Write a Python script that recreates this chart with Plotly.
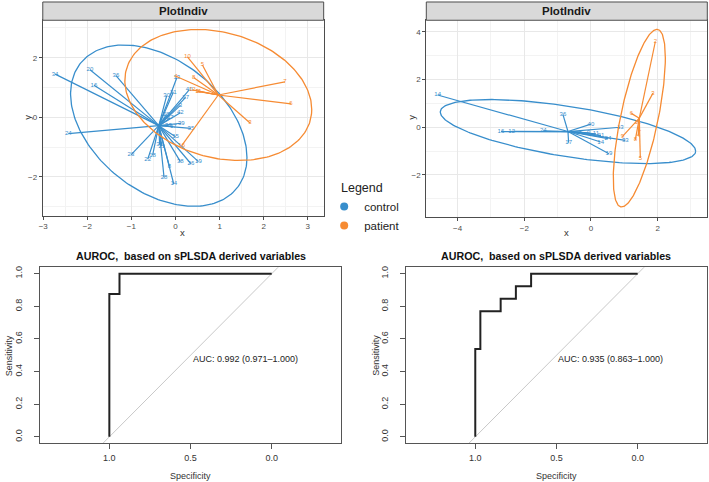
import numpy as np
import plotly.graph_objects as go

BLUE = "#388ECC"
ORANGE = "#F68B33"
W, H = 709, 482

# ---------------- data: top-left PlotIndiv ----------------
a_ctrl_x = [-2.73, -1.94, -1.85, -1.35, -2.43, 0.03, -0.20, -0.05, 0.31, 0.23, 0.11, 0.11, -0.12, 0.13,
            0.35, -0.16, 0.00, -0.31, -0.36, -1.01, -0.63, -0.52, -0.14, 0.11, 0.35, 0.52, -0.26, -0.04,
            -0.05, -0.20]
a_ctrl_y = [1.45, 1.60, 1.08, 1.40, -0.55, 1.33, 0.73, 0.84, 0.92, 0.67, 0.40, 0.15, -0.02, -0.20,
            -0.37, -0.27, -0.65, -0.97, -0.92, -1.26, -1.41, -1.28, -1.64, -1.49, -1.56, -1.49, -2.02, -2.24,
            -0.30, 0.10]
a_ctrl_lab = ["34", "20", "16", "36", "24", "13", "30", "31", "40", "37", "3", "42", "27", "39",
              "35", "33", "15", "21", "32", "23", "22", "18", "8", "38", "26", "19", "28", "14",
              "17", "25"]
a_pat_x = [0.27, 0.61, 0.01, 0.41, 2.48, 0.38, 0.50, 0.52, 2.62, 1.69, 0.14]
a_pat_y = [2.03, 1.76, 1.38, 1.34, 1.19, 0.92, 0.87, 0.88, 0.45, -0.19, -0.95]
a_pat_lab = ["10", "5", "4", "8", "7", "12", "9", "11", "6", "3", "16"]
a_center_ctrl = [-0.38, -0.28]
a_center_pat = [0.97, 0.75]
a_shape_ctrl = [4.00, 7.34, -2.14]   # scaled covariance: sxx, syy, sxy
a_shape_pat = [4.49, 4.84, -1.03]

# ---------------- data: top-right PlotIndiv ----------------
b_ctrl_x = [-4.60, -2.70, -2.38, -1.43, -0.84, -0.67, 0.00, 0.88, -0.07, 0.15, 0.30, 0.51, 0.29, 1.03, 0.54, -0.30]
b_ctrl_y = [1.35, -0.18, -0.17, -0.15, 0.53, -0.65, 0.13, 0.00, -0.24, -0.28, -0.35, -0.48, -0.62, -0.55, -1.11, -0.20]
b_ctrl_lab = ["14", "16", "12", "24", "36", "17", "40", "13", "9", "11", "21", "24", "14", "33", "19", "5"]
b_pat_x = [1.93, 1.86, 1.21, 0.94, 1.33, 1.48, 1.45, 1.42, 1.40]
b_pat_y = [3.58, 1.43, 0.58, -0.39, -0.53, -1.29, -0.10, -0.35, 0.20]
b_pat_lab = ["2", "3", "6", "9", "8", "5", "1", "4", "11"]
b_center_ctrl = [-0.69, -0.18]
b_center_pat = [1.45, 0.38]
b_shape_ctrl = [14.67, 1.80, -3.13]
b_shape_pat = [0.61, 13.84, 1.97]

# ---------------- data: ROC curves ----------------
roc1_spec = [1.0, 1.0, 0.9375, 0.9375, 0.0]
roc1_sens = [0.0, 0.875, 0.875, 1.0, 1.0]
roc1_label = "AUC: 0.992 (0.971\u20131.000)"
roc2_spec = [1.0, 1.0, 0.96875, 0.96875, 0.84375, 0.84375, 0.75, 0.75, 0.65625, 0.65625, 0.0]
roc2_sens = [0.0, 0.538, 0.538, 0.769, 0.769, 0.846, 0.846, 0.923, 0.923, 1.0, 1.0]
roc2_label = "AUC: 0.935 (0.863\u20131.000)"
diag_spec = [1.6, -0.6]
diag_sens = [-0.6, 1.6]

groups = ["control", "patient"]


def ellipse(center, shape, n=240):
    sxx, syy, sxy = shape
    L = np.linalg.cholesky(np.array([[sxx, sxy], [sxy, syy]]))
    t = np.linspace(0, 2 * np.pi, n)
    pts = L @ np.vstack([np.cos(t), np.sin(t)])
    return center[0] + pts[0], center[1] + pts[1]


def star(center, xs, ys):
    sx, sy = [], []
    for x, y in zip(xs, ys):
        sx += [center[0], x, None]
        sy += [center[1], y, None]
    return sx, sy


fig = go.Figure()


def add_indiv(xa, ya, cx, cy, clab, px, py, plab, cc, cp, shc, shp):
    for xs, ys, labs, cen, sh, col in [(cx, cy, clab, cc, shc, BLUE), (px, py, plab, cp, shp, ORANGE)]:
        sx, sy = star(cen, xs, ys)
        fig.add_trace(go.Scatter(x=sx, y=sy, mode="lines", line=dict(color=col, width=1.2),
                                 xaxis=xa, yaxis=ya, showlegend=False, hoverinfo="skip"))
        ex, ey = ellipse(cen, sh)
        fig.add_trace(go.Scatter(x=ex, y=ey, mode="lines", line=dict(color=col, width=1.3),
                                 xaxis=xa, yaxis=ya, showlegend=False, hoverinfo="skip"))
        fig.add_trace(go.Scatter(x=xs, y=ys, mode="text", text=labs,
                                 textfont=dict(size=6, color=col, family="Arial"),
                                 xaxis=xa, yaxis=ya, showlegend=False))


add_indiv("x", "y", a_ctrl_x, a_ctrl_y, a_ctrl_lab, a_pat_x, a_pat_y, a_pat_lab,
          a_center_ctrl, a_center_pat, a_shape_ctrl, a_shape_pat)
add_indiv("x2", "y2", b_ctrl_x, b_ctrl_y, b_ctrl_lab, b_pat_x, b_pat_y, b_pat_lab,
          b_center_ctrl, b_center_pat, b_shape_ctrl, b_shape_pat)

# legend entries
for g, col in zip(groups, [BLUE, ORANGE]):
    fig.add_trace(go.Scatter(x=[None], y=[None], mode="markers", name=g,
                             marker=dict(color=col, size=8), xaxis="x", yaxis="y"))

# ROC panels
for xa, ya, sp, se in [("x3", "y3", roc1_spec, roc1_sens), ("x4", "y4", roc2_spec, roc2_sens)]:
    fig.add_trace(go.Scatter(x=diag_spec, y=diag_sens, mode="lines", line=dict(color="#c8c8c8", width=1),
                             xaxis=xa, yaxis=ya, showlegend=False, hoverinfo="skip"))
    fig.add_trace(go.Scatter(x=sp, y=se, mode="lines", line=dict(color="#222222", width=2),
                             xaxis=xa, yaxis=ya, showlegend=False))


def px2fx(p):
    return p / W


def px2fy(p):
    return 1 - p / H


grid_major = "#e8e8e8"
grid_minor = "#f3f3f3"
border = "#4d4d4d"
tickfont = dict(size=8, color="#4d4d4d", family="Arial")

indiv_common = dict(showline=True, mirror=True, linecolor=border, linewidth=1, zeroline=False,
                    ticks="outside", ticklen=3, tickcolor=border, tickfont=tickfont,
                    gridcolor=grid_major, gridwidth=1)

layout = dict(
    width=W, height=H, margin=dict(l=0, r=0, t=0, b=0),
    paper_bgcolor="white", plot_bgcolor="white",
    font=dict(family="Arial", color="#222"),
    xaxis=dict(domain=[px2fx(39), px2fx(321.5)], range=[-3.01, 3.36], anchor="y",
               dtick=1, tick0=0, minor=dict(dtick=0.5, showgrid=True, gridcolor=grid_minor, gridwidth=0.6),
               **indiv_common),
    yaxis=dict(domain=[px2fy(215), px2fy(19.3)], range=[-3.30, 3.26], anchor="x",
               dtick=2, tick0=0, minor=dict(dtick=1, showgrid=True, gridcolor=grid_minor, gridwidth=0.6),
               **indiv_common),
    xaxis2=dict(domain=[px2fx(424.7), px2fx(707.3)], range=[-4.94, 3.49], anchor="y2",
                dtick=2, tick0=0, minor=dict(dtick=1, showgrid=True, gridcolor=grid_minor, gridwidth=0.6),
                **indiv_common),
    yaxis2=dict(domain=[px2fy(216.7), px2fy(19.3)], range=[-3.77, 4.48], anchor="x2",
                dtick=2, tick0=0, minor=dict(dtick=1, showgrid=True, gridcolor=grid_minor, gridwidth=0.6),
                **indiv_common),
)

roc_common = dict(showline=True, mirror=True, linecolor="#555", linewidth=1, zeroline=False, showgrid=False,
                  ticks="outside", ticklen=5, tickcolor="#555",
                  tickfont=dict(size=9, color="#333", family="Arial"))
layout["xaxis3"] = dict(domain=[px2fx(36.7), px2fx(339.3)], range=[1.424, -0.429], anchor="y3",
                        tickvals=[1.0, 0.5, 0.0], ticktext=["1.0", "0.5", "0.0"], ticklabelstandoff=1, **roc_common)
layout["yaxis3"] = dict(domain=[px2fy(443.3), px2fy(266.7)], range=[-0.04, 1.04], anchor="x3",
                        tickvals=[0, 0.2, 0.4, 0.6, 0.8, 1.0], ticktext=["0.0", "0.2", "0.4", "0.6", "0.8", "1.0"],
                        tickangle=-90, ticklabelstandoff=9, **roc_common)
layout["xaxis4"] = dict(domain=[px2fx(404.7), px2fx(706.7)], range=[1.424, -0.425], anchor="y4",
                        tickvals=[1.0, 0.5, 0.0], ticktext=["1.0", "0.5", "0.0"], ticklabelstandoff=1, **roc_common)
layout["yaxis4"] = dict(domain=[px2fy(443.3), px2fy(266.7)], range=[-0.04, 1.04], anchor="x4",
                        tickvals=[0, 0.2, 0.4, 0.6, 0.8, 1.0], ticktext=["0.0", "0.2", "0.4", "0.6", "0.8", "1.0"],
                        tickangle=-90, ticklabelstandoff=9, **roc_common)

layout["legend"] = dict(x=px2fx(322), y=px2fy(191.5), xanchor="left", yanchor="top",
                        font=dict(size=11.5, color="#222"), bgcolor="rgba(0,0,0,0)",
                        itemwidth=30, tracegroupgap=0)
fig.update_layout(**layout)

shapes = []
annotations = []
annotations.append(dict(text="Legend", xref="paper", yref="paper", x=px2fx(336.5), y=px2fy(187),
                        showarrow=False, font=dict(size=12.5, color="#222"), xanchor="left", yanchor="middle"))
for x0, x1 in [(39, 321.5), (424.7, 707.3)]:
    shapes.append(dict(type="rect", xref="paper", yref="paper", x0=px2fx(x0), x1=px2fx(x1),
                       y0=px2fy(19.3), y1=px2fy(1), fillcolor="#d9d9d9", line=dict(color=border, width=1)))
    annotations.append(dict(text="<b>PlotIndiv</b>", xref="paper", yref="paper", x=px2fx((x0 + x1) / 2),
                            y=px2fy(10.2), showarrow=False, font=dict(size=11.5, color="#1a1a1a"),
                            xanchor="center", yanchor="middle"))

small_title = dict(size=9.5, color="#333")
for xc, yc in [(180, 231.7), (566, 232.3)]:
    annotations.append(dict(text="x", xref="paper", yref="paper", x=px2fx(xc), y=px2fy(yc),
                            showarrow=False, font=small_title, xanchor="center", yanchor="middle"))
for xc, yc in [(23.3, 116.7), (409.7, 116.7)]:
    annotations.append(dict(text="y", xref="paper", yref="paper", x=px2fx(xc), y=px2fy(yc), textangle=-90,
                            showarrow=False, font=small_title, xanchor="center", yanchor="middle"))

for xc, lab, xa, ya in [(188, roc1_label, "x3", "y3"), (555.5, roc2_label, "x4", "y4")]:
    annotations.append(dict(text="<b>AUROC,  based on sPLSDA derived variables</b>", xref="paper", yref="paper",
                            x=px2fx(xc), y=px2fy(255.7), showarrow=False, font=dict(size=10.7, color="#111"),
                            xanchor="center", yanchor="middle"))
    annotations.append(dict(text="Specificity", xref="paper", yref="paper", x=px2fx(xc), y=px2fy(476),
                            showarrow=False, font=dict(size=9, color="#333"), xanchor="center", yanchor="middle"))
    annotations.append(dict(text=lab, xref=xa, yref=ya, x=0.5, y=0.475, showarrow=False,
                            font=dict(size=9, color="#222"), xanchor="left", yanchor="middle"))
for xc in [5, 374.7]:
    annotations.append(dict(text="Sensitivity", xref="paper", yref="paper", x=px2fx(xc), y=px2fy(355),
                            textangle=-90, showarrow=False, font=dict(size=9, color="#333"),
                            xanchor="center", yanchor="middle"))

fig.update_layout(shapes=shapes, annotations=annotations)
fig.write_html("out.html")
